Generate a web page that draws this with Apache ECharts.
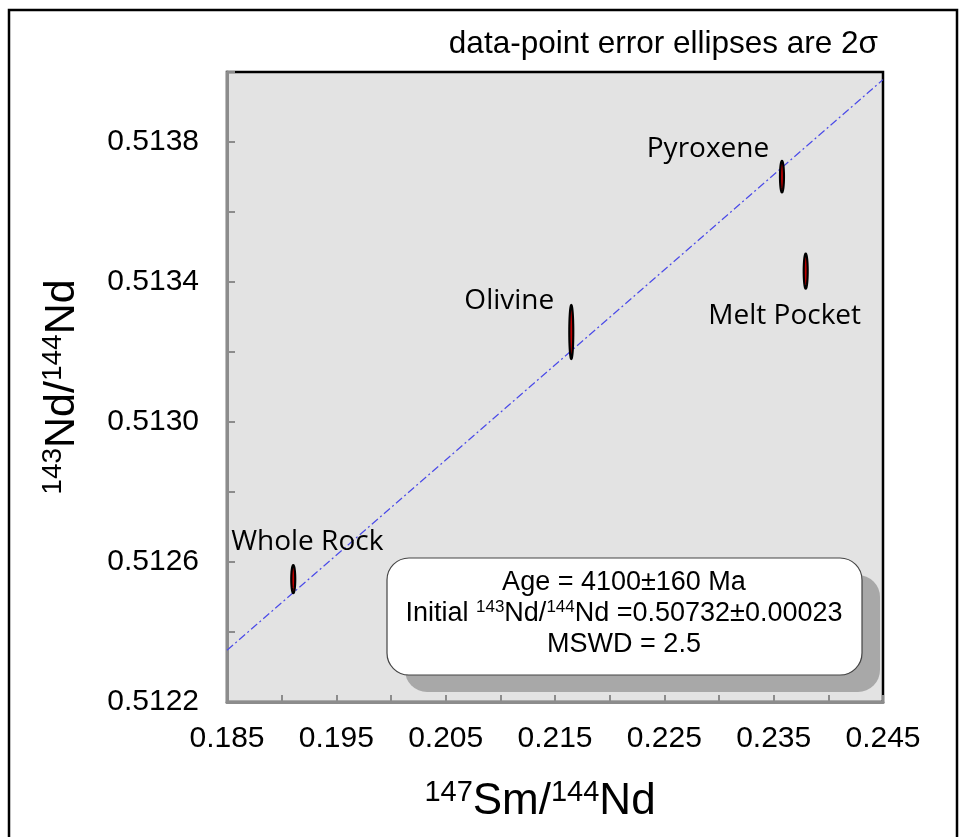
<!DOCTYPE html>
<html>
<head>
<meta charset="utf-8">
<script src="https://cdn.jsdelivr.net/npm/echarts@6/dist/echarts.min.js"></script>
<style>
  html, body { margin: 0; padding: 0; background: #fff; }
  #chart { width: 962px; height: 837px; }
</style>
</head>
<body>
<div id="chart"></div>
<script>
// Sm-Nd isochron: measured fractions with 2-sigma errors
const sampleNames = ['Whole Rock', 'Olivine', 'Pyroxene', 'Melt Pocket'];
const smNd = [0.19106, 0.21649, 0.23576, 0.23793];          // 147Sm/144Nd
const ndNd = [0.512551, 0.513257, 0.513701, 0.513431];      // 143Nd/144Nd
const smNdErr2s = [0.00018, 0.00018, 0.00018, 0.00018];
const ndNdErr2s = [0.00004, 0.000077, 0.000045, 0.00005];

// Isochron result
const ageMa = 4100;
const ageErrMa = 160;
const initialNd = 0.50732;
const initialNdErr = 0.00023;
const mswd = 2.5;

// Axis ranges and ticks
const xMin = 0.185, xMax = 0.245, xStep = 0.005;
const yMin = 0.5122, yMax = 0.5140, yStep = 0.0002;

// 147Sm decay constant (per year); isochron slope = e^(lambda t) - 1
const lambda147 = 6.54e-12;
const slope = Math.expm1(lambda147 * ageMa * 1e6);
const isochron = [xMin, xMax].map(x => [x, initialNd + slope * x]);

// Label placement around each ellipse (pixels)
const labelOffsets = [[14, -37], [-62, -31], [-74, -28], [-21, 45]];

const SANS = '"Liberation Sans", Arial, sans-serif';
const supStyle = (size) => ({
  fontSize: Math.round(size * 0.66), fontFamily: SANS, color: '#000',
  verticalAlign: 'top', lineHeight: Math.round(size * 0.66)
});
const mainStyle = (size, lh) => ({
  fontSize: size, fontFamily: SANS, color: '#000', lineHeight: lh
});

const chart = echarts.init(document.getElementById('chart'), null, { renderer: 'canvas' });

const option = {
  animation: false,
  backgroundColor: '#ffffff',
  title: {
    text: 'data-point error ellipses are 2\u03c3',
    right: 84, top: 28, padding: 0,
    textStyle: { fontSize: 31.5, fontWeight: 'normal', fontFamily: SANS, color: '#000' }
  },
  grid: {
    left: 227, right: 79, top: 72, bottom: 135,
    show: true, backgroundColor: '#e3e3e3', borderColor: '#000', borderWidth: 2.5
  },
  xAxis: {
    type: 'value', min: xMin, max: xMax, interval: xStep,
    name: '{s|147}{n|Sm/}{s|144}{n|Nd}',
    nameLocation: 'middle', nameGap: 76,
    nameTextStyle: {
      padding: [0, 30, 0, 0],
      rich: { s: supStyle(44), n: mainStyle(44, 48) }
    },
    axisLine: { show: true, onZero: false, lineStyle: { color: '#8c8c8c', width: 3 } },
    axisTick: { show: true, inside: true, length: 7, lineStyle: { color: '#8c8c8c', width: 2 } },
    axisLabel: {
      margin: 22, fontSize: 30, fontFamily: SANS, color: '#000',
      formatter: v => Math.round((v - xMin) / xStep) % 2 === 0 ? v.toFixed(3) : ''
    },
    splitLine: { show: false }
  },
  yAxis: {
    type: 'value', min: yMin, max: yMax, interval: yStep,
    name: '{s|143}{n|Nd/}{s|144}{n|Nd}',
    nameLocation: 'middle', nameRotate: 90, nameGap: 142,
    nameTextStyle: {
      rich: { s: supStyle(43), n: mainStyle(43, 46) }
    },
    axisLine: { show: true, onZero: false, lineStyle: { color: '#8c8c8c', width: 3 } },
    axisTick: { show: true, inside: true, length: 8, lineStyle: { color: '#8c8c8c', width: 2 } },
    axisLabel: {
      margin: 28, fontSize: 30, fontFamily: SANS, color: '#000',
      formatter: v => Math.round((v - yMin) / yStep) % 2 === 0 ? v.toFixed(4) : ''
    },
    splitLine: { show: false }
  },
  series: [
    {
      name: 'Isochron',
      type: 'line',
      data: isochron,
      symbol: 'none',
      silent: true,
      z: 2,
      lineStyle: { color: '#4b4be8', width: 1.2, type: [8, 3, 2, 3] }
    },
    {
      name: 'Error ellipses',
      type: 'custom',
      z: 3,
      data: smNd.map((x, i) => [x, ndNd[i], smNdErr2s[i], ndNdErr2s[i]]),
      encode: { x: 0, y: 1 },
      renderItem: function (params, api) {
        const cx = api.value(0), cy = api.value(1);
        const ex = api.value(2), ey = api.value(3);
        const pts = [];
        for (let k = 0; k < 60; k++) {
          const t = 2 * Math.PI * k / 60;
          pts.push(api.coord([cx + ex * Math.cos(t), cy + ey * Math.sin(t)]));
        }
        return {
          type: 'polygon',
          shape: { points: pts },
          style: { fill: '#c00000', stroke: '#000', lineWidth: 2.2 }
        };
      }
    },
    {
      name: 'Samples',
      type: 'scatter',
      z: 4,
      symbolSize: 1,
      itemStyle: { color: 'rgba(0,0,0,0)' },
      silent: true,
      data: smNd.map((x, i) => ({
        name: sampleNames[i],
        value: [x, ndNd[i]],
        label: { offset: labelOffsets[i] }
      })),
      label: {
        show: true, position: 'inside', formatter: '{b}',
        fontFamily: '"Open Sans", sans-serif', fontSize: 28, fontWeight: 500,
        color: '#000000', opacity: 1, textBorderWidth: 0
      }
    }
  ],
  graphic: [
    // outer frame
    {
      type: 'rect', z: 0, silent: true,
      shape: { x: 9, y: 10, width: 948, height: 900 },
      style: { fill: 'none', stroke: '#000', lineWidth: 2.5 }
    },
    // result box shadow
    {
      type: 'rect', z: 10, silent: true,
      shape: { x: 405, y: 575, width: 475, height: 117, r: 22 },
      style: { fill: '#a8a8a8' }
    },
    // result box
    {
      type: 'rect', z: 11, silent: true,
      shape: { x: 387, y: 558, width: 475, height: 117, r: 22 },
      style: { fill: '#ffffff', stroke: '#444', lineWidth: 1.2 }
    },
    {
      type: 'text', z: 12, silent: true,
      x: 624, y: 614,
      style: {
        text: '{n|Age = ' + ageMa + '\u00b1' + ageErrMa + ' Ma}\n' +
              '{n|Initial }{s|143}{n|Nd/}{s|144}{n|Nd =' + initialNd.toFixed(5) + '\u00b1' + initialNdErr.toFixed(5) + '}\n' +
              '{n|MSWD = ' + mswd + '}',
        align: 'center', verticalAlign: 'middle',
        rich: { n: mainStyle(27, 31), s: supStyle(26) }
      }
    }
  ]
};

chart.setOption(option);
</script>
</body>
</html>
